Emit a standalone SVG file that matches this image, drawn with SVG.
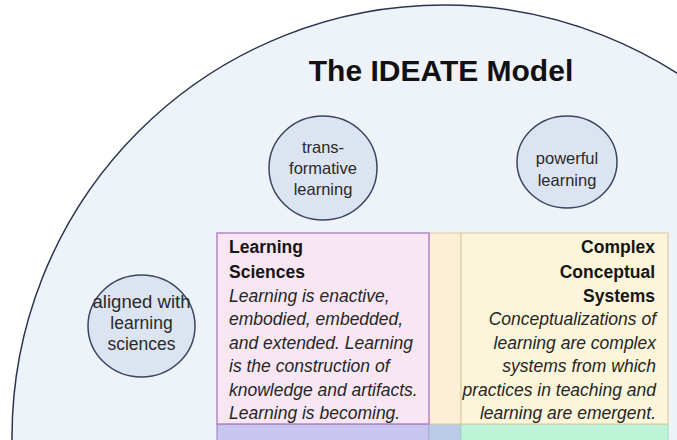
<svg xmlns="http://www.w3.org/2000/svg" width="677" height="440" viewBox="0 0 677 440">
  <style>
    .txt { font-family: "Liberation Sans", Arial, sans-serif; fill: #1e1e1e; }
    .title { font-size: 30px; font-weight: bold; fill: #111; }
    .bubble { fill: #dce4f2; stroke: #3a4560; stroke-width: 1.5; }
    .btxt { font-size: 16.5px; fill: #2a2a2a; text-anchor: middle; }
    .big { font-size: 17.5px; }
    .head { font-size: 17.5px; font-weight: bold; fill: #151515; }
    .body { font-size: 17.5px; font-style: italic; fill: #262626; }
    .end { text-anchor: end; }
  </style>

  <rect width="677" height="440" fill="#ffffff"/>

  <!-- outer model circle -->
  <g id="model">
    <circle cx="444" cy="437" r="432" fill="#eef3fa" stroke="#2b3550" stroke-width="1.5"/>
    <text class="txt title" x="441" y="81" text-anchor="middle">The IDEATE Model</text>
  </g>

  <!-- quality bubbles -->
  <g id="transformative">
    <ellipse class="bubble" cx="323" cy="168" rx="54" ry="52"/>
    <text class="txt btxt" x="323" y="153">trans-</text>
    <text class="txt btxt" x="323" y="174">formative</text>
    <text class="txt btxt" x="323" y="195">learning</text>
  </g>
  <g id="powerful">
    <ellipse class="bubble" cx="567" cy="162" rx="50" ry="46"/>
    <text class="txt btxt" x="567" y="164">powerful</text>
    <text class="txt btxt" x="567" y="186">learning</text>
  </g>
  <g id="aligned">
    <ellipse class="bubble" cx="141.5" cy="326" rx="53.5" ry="51"/>
    <text class="txt btxt big" x="141.5" y="308" textLength="98" lengthAdjust="spacingAndGlyphs">aligned with</text>
    <text class="txt btxt big" x="141.5" y="329">learning</text>
    <text class="txt btxt big" x="141.5" y="350">sciences</text>
  </g>

  <!-- bottom row of panels (partially visible) -->
  <g id="lower-row">
    <rect x="217" y="424" width="212" height="20" fill="#c8c6ee" stroke="#a98cc6" stroke-width="1.2"/>
    <rect x="429" y="424" width="32" height="20" fill="#b9cbe6" stroke="#a9b9d6" stroke-width="1"/>
    <rect x="461" y="424" width="207" height="20" fill="#bcf4d8" stroke="#9fd8bd" stroke-width="1"/>
  </g>

  <!-- connecting strip between panels -->
  <g id="strip">
    <rect x="429" y="233" width="32" height="191" fill="#fcefd6" stroke="#dccb9c" stroke-width="1"/>
  </g>

  <g id="learning-sciences">
    <rect x="217" y="233" width="212" height="191" fill="#f9e6f3" stroke="#b287c2" stroke-width="1.5"/>
    <text class="txt head" x="229" y="253">Learning</text>
    <text class="txt head" x="229" y="277.5">Sciences</text>
    <text class="txt body" x="229" y="301.5">Learning is enactive,</text>
    <text class="txt body" x="229" y="325">embodied, embedded,</text>
    <text class="txt body" x="229" y="348.5">and extended. Learning</text>
    <text class="txt body" x="229" y="372">is the construction of</text>
    <text class="txt body" x="229" y="395.5">knowledge and artifacts.</text>
    <text class="txt body" x="229" y="419">Learning is becoming.</text>
  </g>

  <g id="complex-systems">
    <rect x="461" y="233" width="207" height="191" fill="#fcf5da" stroke="#dccfa2" stroke-width="1.2"/>
    <text class="txt head end" x="655" y="253">Complex</text>
    <text class="txt head end" x="655" y="277.5">Conceptual</text>
    <text class="txt head end" x="655" y="301.5">Systems</text>
    <text class="txt body end" x="656" y="325">Conceptualizations of</text>
    <text class="txt body end" x="656" y="348.5">learning are complex</text>
    <text class="txt body end" x="656" y="372">systems from which</text>
    <text class="txt body end" x="656" y="395.5">practices in teaching and</text>
    <text class="txt body end" x="656" y="419">learning are emergent.</text>
  </g>
</svg>
